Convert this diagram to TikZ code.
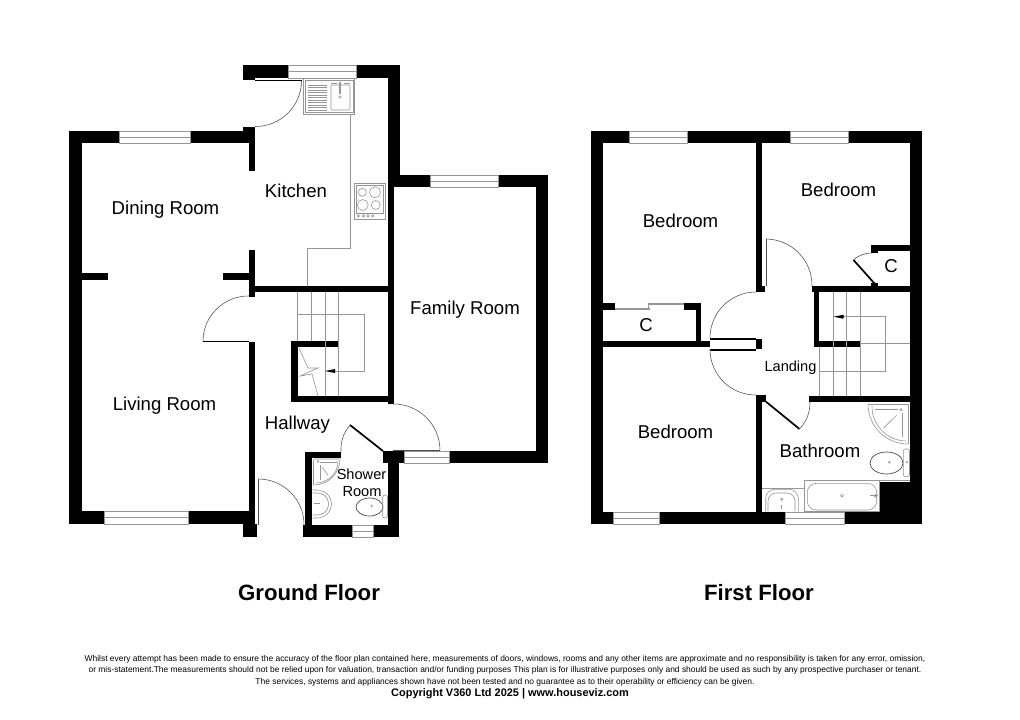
\documentclass[tikz,border=0pt]{standalone}
\usepackage{fontspec}
\setmainfont{Liberation Sans}
\usepackage{tikz}
\usepackage{xcolor}
\definecolor{fpgrey}{RGB}{150,150,150}
\tikzstyle{wall} = [fill=black]
\tikzstyle{glaze} = [fill=white,draw=fpgrey,line width=0.7pt]
\tikzstyle{fitting} = [draw=fpgrey,line width=0.6pt]
\tikzstyle{swing} = [draw=black!65,line width=0.6pt]
\tikzstyle{leaf} = [draw=black,line width=1.7pt]
\tikzstyle{sanitary} = [draw=black!70,line width=0.7pt,fill=white]
\tikzstyle{roomlabel} = [inner sep=0pt,font=\fontsize{18.6}{20}\selectfont]
\tikzstyle{smalllabel} = [inner sep=0pt,font=\fontsize{14.6}{16}\selectfont]
\tikzstyle{floorlabel} = [inner sep=0pt,font=\fontsize{22.2}{24}\selectfont\bfseries]
\tikzstyle{smallprint} = [inner sep=0pt,font=\fontsize{8.44}{10}\selectfont]

\begin{document}
\begin{tikzpicture}[x=1pt,y=-1pt]
\useasboundingbox (0,0) rectangle (1020,720);
\fill[white] (0,0) rectangle (1020,720);

% Ground floor: dining and living room walls
\fill[wall] (69,131) rectangle (82,524);
\fill[wall] (69,131) rectangle (119,143);
\fill[wall] (190,131) rectangle (255,143);
\fill[wall] (243,127) rectangle (255,143);
\fill[wall] (249,127) rectangle (255,171);
\fill[wall] (249,250) rectangle (255,297);
\fill[wall] (82,273) rectangle (108,280);
\fill[wall] (223,273) rectangle (249,280);
\fill[wall] (69,511) rectangle (104,524);
\fill[wall] (188,511) rectangle (255,524);
\fill[wall] (249,342) rectangle (255,524);
\fill[wall] (243,524) rectangle (257,537);

% Ground floor: kitchen and family room walls
\fill[wall] (243,65) rectangle (288,78);
\fill[wall] (243,65) rectangle (255,80);
\fill[wall] (356,65) rectangle (400,78);
\fill[wall] (388,65) rectangle (400,187);
\fill[wall] (388,175) rectangle (430,187);
\fill[wall] (498,175) rectangle (548,187);
\fill[wall] (536,175) rectangle (548,463);
\fill[wall] (449,451) rectangle (548,463);
\fill[wall] (383,451) rectangle (404,463);
\fill[wall] (388,187) rectangle (394,404);
\fill[wall] (249,286) rectangle (394,292);

% Ground floor: cupboard under the stairs and shower room walls
\fill[wall] (291,341) rectangle (338,347);
\fill[wall] (291,341) rectangle (298,402);
\fill[wall] (291,396) rectangle (394,402);
\fill[wall] (305,452) rectangle (341,458);
\fill[wall] (305,452) rectangle (312,537);
\fill[wall] (303,525) rectangle (352,537);
\fill[wall] (373,525) rectangle (399,537);
\fill[wall] (388,451) rectangle (399,537);

% First floor: outer walls
\fill[wall] (591,131) rectangle (603,524);
\fill[wall] (591,131) rectangle (629,143);
\fill[wall] (687,131) rectangle (790,143);
\fill[wall] (848,131) rectangle (922,143);
\fill[wall] (910,131) rectangle (922,524);
\fill[wall] (591,512) rectangle (613,524);
\fill[wall] (659,512) rectangle (785,524);
\fill[wall] (844,512) rectangle (922,524);
\fill[wall] (880,482) rectangle (910,512);

% First floor: inner walls
\fill[wall] (756,143) rectangle (762,292);
\fill[wall] (756,286) rectangle (765,292);
\fill[wall] (812,286) rectangle (910,292);
\fill[wall] (814,286) rectangle (819,347);
\fill[wall] (814,341) rectangle (860,347);
\fill[wall] (871,245) rectangle (910,251);
\fill[wall] (871,245) rectangle (878,253);
\fill[wall] (871,283) rectangle (878,286);
\fill[wall] (603,303) rectangle (615,310);
\fill[wall] (684,303) rectangle (701,310);
\fill[wall] (696,303) rectangle (701,341);
\fill[wall] (603,341) rectangle (710,347);
\fill[wall] (756,339) rectangle (762,349);
\fill[wall] (756,395) rectangle (762,512);
\fill[wall] (756,395) rectangle (766,402);
\fill[wall] (809,396) rectangle (910,402);

% Windows
\foreach \xa/\ya/\xb/\yb in {119/131/190/143, 104/511/188/524, 288/65/356/78,
    430/175/498/187, 404/451/449/463, 352/525/373/537, 629/131/687/143,
    790/131/848/143, 613/512/659/524, 785/512/844/524}{
  \draw[glaze] (\xa,\ya) rectangle (\xb,\yb);
  \draw[glaze] (\xa,{(\ya+\yb)/2}) -- (\xb,{(\ya+\yb)/2});
}

% Sink unit
\draw[fitting] (303,78) rectangle (354.5,114);
\draw[fitting] (305,80) rectangle (353,112);
\foreach \yy in {85,87.5,...,110}{
  \draw[fitting] (308,\yy) -- (327,\yy);
}
\draw[fitting,rounded corners=1pt] (331,85) rectangle (350,110);
\draw[fitting,line width=1.2pt] (340,82) -- (340,94);
\draw[fitting] (340,97) circle (1.2);
\draw[fitting] (331,83) -- (337,83);
\draw[fitting] (344,83) -- (350,83);

% Worktop
\draw[fitting] (350.5,114) -- (350.5,248) -- (307,248) -- (307,286);

% Hob
\draw[fitting] (354,183) rectangle (385,219);
\draw[fitting] (356,185) rectangle (383,213);
\draw[fitting] (362.3,192.3) circle (4);
\draw[fitting] (375,192.3) circle (5.5);
\draw[fitting] (362.7,205) circle (5.5);
\draw[fitting] (375.7,205) circle (4.5);
\foreach \xx in {358.3,363.5,368,372.7}{
  \draw[fitting] (\xx,215.8) circle (1.3);
}

% Ground floor stairs
\foreach \xx in {297.5,311.5}{
  \draw[fitting] (\xx,292) -- (\xx,341);
}
\foreach \xx in {325,338.3}{
  \draw[fitting] (\xx,292) -- (\xx,396);
}
\draw[fitting] (297.5,314) -- (364,314) -- (364,371) -- (334,371);
\fill[black] (335,369) -- (325,371) -- (335,373) -- cycle;
\draw[fitting] (299,348) -- (308,368) -- (318,368) -- (300,376) -- (312,374) -- (318,396);

% Shower room fittings
\draw[fitting,rounded corners=2pt] (340,459) -- (313.5,459) -- (313.5,485);
\draw[fitting] (313.5,485) to[bend right=45] (340,459);
\draw[fitting] (316,483) to[bend right=45] (338,461);
\draw[fitting] (318,461.5) circle (1);
\draw[fitting] (320,462) -- (337,462);
\draw[fitting] (320,465) -- (320,480);
\draw[fitting] (322,467) -- (328,475);
\draw[fitting,rounded corners=6pt] (312.5,490) -- (323,490) -- (331.5,498) -- (331.5,510) -- (323,518) -- (312.5,518);
\draw[fitting,rounded corners=5pt] (312.5,493) -- (322,493) -- (328.5,499) -- (328.5,509) -- (322,515) -- (312.5,515);
\draw[fitting] (314,503) -- (320,503);
\draw[sanitary] (369.5,507) ellipse (13.5 and 9);
\draw[fitting,rounded corners=2pt] (382.7,495) rectangle (387.5,518);
\draw[fitting] (371.7,506) circle (0.8);

% Bathroom fittings
\draw[fitting] (804,511.7) -- (804,480) -- (909.7,480);
\draw[fitting] (804,511.7) -- (879.7,511.7) -- (879.7,480);
\draw[fitting] (762,488.3) -- (804,488.3);
\draw[fitting,rounded corners=9pt] (807.3,483.3) rectangle (876.7,510);
\draw[fitting] (842,495.7) circle (1.4);
\draw[fitting] (870,495.7) -- (878,495.7);
\draw[fitting] (875.5,495.7) circle (1.4);
\draw[fitting,rounded corners=9pt] (765.7,511.7) -- (765.7,489.3) -- (798.3,489.3) -- (798.3,511.7);
\draw[fitting,rounded corners=8pt] (768,511) -- (768,493) -- (795,493) -- (795,511);
\draw[fitting] (781.7,499.3) circle (1.2);
\draw[fitting] (781.7,505) -- (781.7,509);
\draw[fitting,rounded corners=2pt] (908,404) -- (868,404);
\draw[fitting] (868,404) to[bend right=45] (908,444);
\draw[fitting] (908,444) -- (908,404);
\draw[fitting] (872,406) to[bend right=45] (906,441);
\draw[fitting] (901,409.7) circle (1.2);
\draw[fitting] (875,409.7) -- (897.7,409.7);
\draw[fitting] (902.7,413.3) -- (902.7,436.7);
\draw[fitting] (883.3,428.3) -- (896.7,415);
\draw[sanitary] (886.5,463) ellipse (16.5 and 11);
\draw[fitting,rounded corners=2pt] (903.3,449) rectangle (909.5,476.7);
\draw[fitting] (889.3,462.3) circle (0.9);
\draw[fitting] (907,462.3) circle (0.7);

% First floor stairs
\foreach \xx in {833.3,846.7,860}{
  \draw[fitting] (\xx,292) -- (\xx,396);
}
\draw[fitting] (819.7,347) -- (819.7,396);
\draw[fitting] (843,316.7) -- (885,316.7) -- (885,371.7) -- (819.7,371.7);
\draw[fitting] (860,343.3) -- (909.7,343.3);
\fill[black] (843.5,314.7) -- (833.5,316.7) -- (843.5,318.7) -- cycle;

% Doors, ground floor
\draw[leaf,line width=1.2pt] (255,80.8) -- (301.5,80.8);
\draw[swing] (301.5,81) to[bend left=45] (255,126.5);
\draw[draw=black,line width=1pt] (203,341.5) -- (249,341.5);
\draw[swing] (203,341) to[bend left=45] (249,296);
\draw[draw=black!70,line width=0.9pt] (258,479) -- (258,525);
\draw[swing] (258.5,479) to[bend left=45] (304,525);
\draw[draw=black!70,line width=0.9pt] (393,450.3) -- (440,450.3);
\draw[swing] (393,404) to[bend left=45] (440,450);
\draw[leaf] (383,451) -- (350,425);
\draw[swing] (350,425) to[bend right=20] (341,452);

% Doors, first floor
\draw[draw=black!70,line width=0.9pt] (766,239) -- (766,286);
\draw[swing] (766,239) to[bend left=45] (812,286);
\draw[leaf,line width=2pt] (710,338.8) -- (756,338.8);
\draw[leaf,line width=2pt] (710,349.5) -- (756,349.5);
\draw[swing] (710,338) to[bend left=45] (756,292);
\draw[swing] (710,349.5) to[bend right=45] (756,395);
\draw[leaf] (766,401.7) -- (799.5,429);
\draw[swing] (799.5,429) to[bend right=20] (810,402);
\draw[leaf] (874.5,283.5) -- (853.5,260);
\draw[swing] (853.5,260) to[bend left=20] (872,253);
\draw[glaze,line width=1.2pt] (615,309) -- (650,309);
\draw[glaze,line width=1.2pt] (648,304) -- (684,304);
\draw[glaze] (648,304) -- (648,309);

% Room names
\node[roomlabel] (dining) at (165.5,209.5) {Dining Room};
\node[roomlabel] (kitchen) at (296,190.5) {Kitchen};
\node[roomlabel] (family) at (465,309.5) {Family Room};
\node[roomlabel] (living) at (164.5,405.5) {Living Room};
\node[roomlabel] (hallway) at (297.5,424.5) {Hallway};
\node[smalllabel] (showertop) at (361.5,474.5) {Shower};
\node[smalllabel] (showerroom) at (362,492) {Room};
\node[roomlabel] (bedroomleft) at (680.5,220.5) {Bedroom};
\node[roomlabel] (bedroomright) at (838.5,190) {Bedroom};
\node[roomlabel] (bedroomlow) at (675.5,431.5) {Bedroom};
\node[roomlabel] (closetright) at (891,266) {C};
\node[roomlabel] (closetleft) at (646,325) {C};
\node[smalllabel] (landing) at (790.5,368) {Landing};
\node[roomlabel] (bathroom) at (820,450.5) {Bathroom};

% Floor names
\node[floorlabel] (groundfloor) at (309,593) {Ground Floor};
\node[floorlabel] (firstfloor) at (759,593) {First Floor};

% Small print
\node[smallprint] (printone) at (505,659) {Whilst every attempt has been made to ensure the accuracy of the floor plan contained here, measurements of doors, windows, rooms and any other items are approximate and no responsibility is taken for any error, omission,};
\node[smallprint] (printtwo) at (505,670.5) {or mis-statement.The measurements should not be relied upon for valuation, transaction and/or funding purposes This plan is for illustrative purposes only and should be used as such by any prospective purchaser or tenant.};
\node[smallprint] (printthree) at (505,682) {The services, systems and appliances shown have not been tested and no guarantee as to their operability or efficiency can be given.};
\node[inner sep=0pt,font=\fontsize{10.95}{12}\selectfont\bfseries] (copyright) at (510,694) {Copyright V360 Ltd 2025 | www.houseviz.com};
\end{tikzpicture}
\end{document}
